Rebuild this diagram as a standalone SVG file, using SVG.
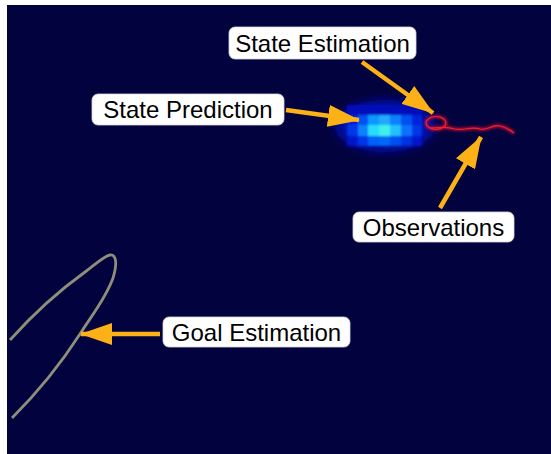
<svg xmlns="http://www.w3.org/2000/svg" width="551" height="454" viewBox="0 0 551 454">
<style>
.lbl rect{fill:#ffffff;stroke:#d8d8d8;stroke-width:0.8}
.lbl text{font-family:"Liberation Sans",Arial,sans-serif;font-size:24px;fill:#000;text-anchor:middle}
.arr{stroke:#fcb116;stroke-width:4.5;fill:none;marker-end:url(#ah)}
</style>
<defs>
<marker id="ah" markerUnits="userSpaceOnUse" markerWidth="32" markerHeight="22" refX="31" refY="11" orient="auto">
<path d="M0,0 L32,11 L0,22 z" fill="#fcb116"/>
</marker>
<filter id="blur1" x="-50%" y="-50%" width="200%" height="200%"><feGaussianBlur stdDeviation="4"/></filter>
<filter id="blur2" x="-20%" y="-50%" width="140%" height="200%"><feGaussianBlur stdDeviation="1"/></filter>
<filter id="glow" x="-20%" y="-50%" width="140%" height="200%"><feGaussianBlur stdDeviation="1.8"/></filter>
</defs>
<rect x="0" y="0" width="551" height="454" fill="#ffffff"/>
<rect x="7" y="5" width="544" height="449" fill="#02023e"/>

<g id="state-prediction-blob">
<ellipse cx="385" cy="126" rx="50" ry="26" fill="#0010a8" filter="url(#blur1)"/>
<g filter="url(#blur2)">
<rect x="347" y="105" width="75" height="41" fill="#0008b8"/>
<rect x="347" y="115" width="11" height="10" fill="#0020d8"/>
<rect x="358" y="115" width="10" height="10" fill="#0050f4"/>
<rect x="368" y="115" width="11" height="10" fill="#1098ff"/>
<rect x="379" y="115" width="11" height="10" fill="#20a8ff"/>
<rect x="390" y="115" width="11" height="10" fill="#1080ff"/>
<rect x="401" y="115" width="11" height="10" fill="#0050f0"/>
<rect x="412" y="115" width="10" height="10" fill="#0024d8"/>
<rect x="347" y="125" width="11" height="11" fill="#0034e8"/>
<rect x="358" y="125" width="10" height="11" fill="#0880ff"/>
<rect x="368" y="125" width="11" height="11" fill="#28dcff"/>
<rect x="379" y="125" width="11" height="11" fill="#40f0e8"/>
<rect x="390" y="125" width="11" height="11" fill="#20c0ff"/>
<rect x="401" y="125" width="11" height="11" fill="#0870ff"/>
<rect x="412" y="125" width="10" height="11" fill="#0034e8"/>
<rect x="347" y="136" width="11" height="10" fill="#0014c8"/>
<rect x="358" y="136" width="10" height="10" fill="#0034e8"/>
<rect x="368" y="136" width="11" height="10" fill="#0060f8"/>
<rect x="379" y="136" width="11" height="10" fill="#0068f8"/>
<rect x="390" y="136" width="11" height="10" fill="#0050f0"/>
<rect x="401" y="136" width="11" height="10" fill="#0030e0"/>
<rect x="412" y="136" width="10" height="10" fill="#0014c8"/>
</g>
</g>

<g id="observations-trajectory">
<g filter="url(#glow)" stroke="#c01030" fill="none" stroke-width="3.5" opacity="0.85">
<ellipse cx="436" cy="123" rx="10" ry="6.5"/>
<path d="M430,128 C440,128 445,126 455,129 C465,131 470,126 480,129 C488,131 492,124 500,126 C506,127 510,130 514,133"/>
</g>
<g stroke="#f02030" fill="none" stroke-width="1.2">
<ellipse cx="436" cy="123" rx="10" ry="6.5"/>
<path d="M430,128 C440,128 445,126 455,129 C465,131 470,126 480,129 C488,131 492,124 500,126 C506,127 510,130 514,133"/>
</g>
</g>

<g id="goal-curve">
<path d="M10,340 C35,312 60,290 85,272 C97,263 104,256 110,255 C117,254 117,265 113,278 C106,298 92,315 80,334 C60,365 35,395 12,418" fill="none" stroke="#8e8e7a" stroke-width="2.8"/>
</g>

<g id="connectors">
<line class="arr" x1="362" y1="62" x2="433" y2="113"/>
<line class="arr" x1="286" y1="110" x2="359" y2="120"/>
<line class="arr" x1="440" y1="208" x2="481" y2="137"/>
<line class="arr" x1="160" y1="334" x2="81" y2="334"/>
</g>

<g id="state-estimation" class="lbl">
<rect x="229" y="27" width="187" height="32" rx="6"/>
<text x="322.5" y="52">State Estimation</text>
</g>
<g id="state-prediction" class="lbl">
<rect x="92" y="94" width="192" height="31" rx="6"/>
<text x="188" y="118">State Prediction</text>
</g>
<g id="observations" class="lbl">
<rect x="353" y="212" width="161" height="30" rx="6"/>
<text x="433.5" y="236">Observations</text>
</g>
<g id="goal-estimation" class="lbl">
<rect x="163" y="317" width="187" height="30" rx="6"/>
<text x="256.5" y="341">Goal Estimation</text>
</g>
</svg>
